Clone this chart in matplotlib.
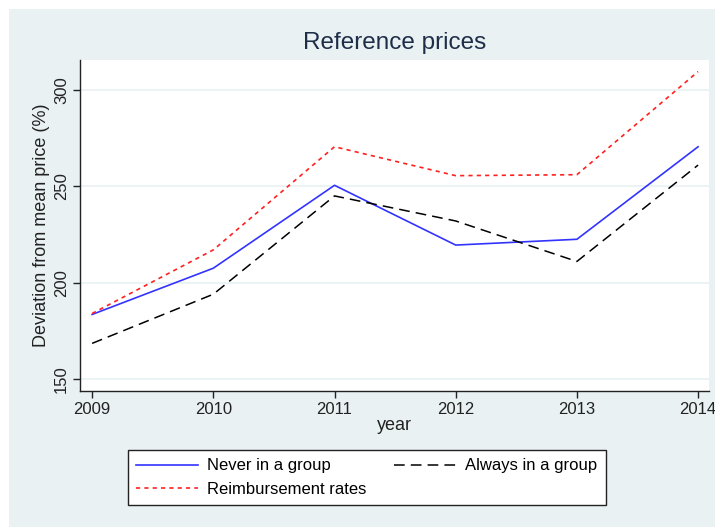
import numpy as np
import matplotlib.pyplot as plt
from matplotlib.patches import Rectangle

plt.rcParams['font.family'] = ['Liberation Sans', 'DejaVu Sans']

# Данные по годам
years = [2009, 2010, 2011, 2012, 2013, 2014]
never_group = [183.5, 207.5, 250.5, 219.5, 222.5, 270.5]
always_group = [168.5, 194, 245, 232, 211, 261]
reimbursement = [184, 217, 270.5, 255.5, 256, 309.5]

y_ticks = [150, 200, 250, 300]

bg = '#E9F1F3'

fig = plt.figure(figsize=(7.15, 5.27), dpi=100)
fig.patch.set_facecolor('white')
# Фон графика (отступ сверху и слева белый)
fig.patches.append(Rectangle((9 / 715, 0), 1 - 9 / 715, 1 - 9 / 527,
                             transform=fig.transFigure, facecolor=bg,
                             edgecolor='none', zorder=-10))

ax = fig.add_axes([80 / 715, 1 - 391 / 527, 629 / 715, 331 / 527])
ax.set_facecolor('white')

ax.plot(years, never_group, color='#3333FF', lw=1.2, label='Never in a group')
ax.plot(years, always_group, color='black', lw=1.1, dashes=(7, 4),
        label='Always in a group')
ax.plot(years, reimbursement, color='#FF2020', lw=1.2, dashes=(2.5, 2.5),
        label='Reimbursement rates')

ax.set_xlim(2008.9, 2014.09)
ax.set_ylim(143.8, 315.5)
ax.set_xticks(years)
ax.set_yticks(y_ticks)
ax.set_yticklabels([str(t) for t in y_ticks], rotation=90, va='center')
ax.grid(axis='y', color=bg, lw=1.2)
ax.set_axisbelow(True)

for s in ['top', 'right']:
    ax.spines[s].set_visible(False)
for s in ['left', 'bottom']:
    ax.spines[s].set_color('#222222')
    ax.spines[s].set_linewidth(1.0)
ax.tick_params(direction='out', length=5, width=1, colors='#222222',
               labelsize=12, pad=3)

ax.set_xlabel('year', fontsize=13, color='#222222', labelpad=0)
ax.set_ylabel('Deviation from mean price (%)', fontsize=13,
              color='#222222', labelpad=3)
fig.text(395 / 715, 1 - 43 / 527, 'Reference prices', ha='center',
         va='center', fontsize=17.5, color='#1E2E48')

# Легенда: порядок для заполнения по столбцам
h, l = ax.get_legend_handles_labels()
order = [0, 2, 1]
leg = fig.legend([h[i] for i in order], [l[i] for i in order], ncol=2,
                 loc='upper left',
                 bbox_to_anchor=(128 / 715, 1 - 450 / 527),
                 fancybox=False, edgecolor='#222222', framealpha=1,
                 fontsize=12, handlelength=3.7, handletextpad=0.54,
                 borderaxespad=0, borderpad=0.5,
                 labelspacing=0.5, columnspacing=1.68)
leg.get_frame().set_linewidth(1.0)

fig.savefig('out.png', dpi=100, facecolor=fig.get_facecolor())
